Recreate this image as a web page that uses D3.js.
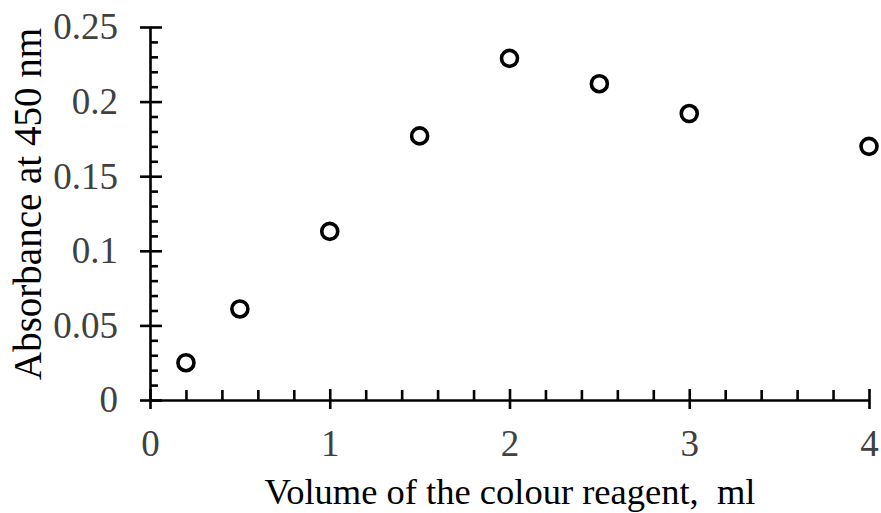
<!DOCTYPE html>
<html>
<head>
<meta charset="utf-8">
<script src="https://cdn.jsdelivr.net/npm/d3@7"></script>
<style>
  body { margin: 0; background: #fff; }
  text { font-family: "Liberation Serif", "Times New Roman", serif; }
</style>
</head>
<body>
<div id="chart"></div>
<script>
// data
var volume = [0.2, 0.5, 1, 1.5, 2, 2.5, 3, 4];
var absorbance = [0.025, 0.061, 0.113, 0.177, 0.229, 0.212, 0.192, 0.170];

var xTicks = [0, 1, 2, 3, 4];
var yTicks = [0, 0.05, 0.1, 0.15, 0.2, 0.25];

var xTitle = "Volume of the colour reagent,  ml";
var yTitle = "Absorbance at 450 nm";

// dimensions
var W = 881, H = 513;
var margin = {top: 27, right: 12, bottom: 113, left: 150},
    width = W - margin.left - margin.right,
    height = H - margin.top - margin.bottom;

var svg = d3.select("#chart").append("svg")
    .attr("width", W)
    .attr("height", H)
  .append("g")
    .attr("transform", "translate(" + margin.left + "," + margin.top + ")");

var x = d3.scaleLinear().domain([0, 4]).range([0, width]);
var y = d3.scaleLinear().domain([0, 0.25]).range([height, 0]);

// minor tick positions
var xMinor = d3.range(0, 4.001, 0.2).filter(function(v) { return Math.abs(v - Math.round(v)) > 1e-6; });
var yMinor = d3.range(0, 0.2501, 0.01).filter(function(v) { return Math.abs(v * 20 - Math.round(v * 20)) > 1e-6; });

var axisStroke = 2.6;
var labelSize = 37;

// x axis: main (outside ticks + labels)
var gx = svg.append("g")
    .attr("transform", "translate(0," + height + ")")
    .call(d3.axisBottom(x).tickValues(xTicks).tickSize(9).tickSizeOuter(0).tickPadding(21)
      .tickFormat(d3.format("d")));
// inside ticks
svg.append("g").attr("class", "inner")
    .attr("transform", "translate(0," + height + ")")
    .call(d3.axisTop(x).tickValues(xTicks).tickSize(11).tickFormat(""));
svg.append("g").attr("class", "inner")
    .attr("transform", "translate(0," + height + ")")
    .call(d3.axisTop(x).tickValues(xMinor).tickSize(10).tickFormat(""));

// y axis
var gy = svg.append("g")
    .call(d3.axisLeft(y).tickValues(yTicks).tickSize(10).tickSizeOuter(0).tickPadding(22)
      .tickFormat(function(d) { return d === 0 ? "0" : String(+d.toFixed(2)); }));
svg.append("g").attr("class", "inner")
    .call(d3.axisRight(y).tickValues(yTicks).tickSize(12).tickFormat(""));
svg.append("g").attr("class", "inner")
    .call(d3.axisRight(y).tickValues(yMinor).tickSize(8).tickFormat(""));

svg.selectAll(".inner .domain").remove();
svg.selectAll(".domain, .tick line")
    .attr("stroke", "#000")
    .attr("stroke-width", axisStroke);

gx.selectAll("text")
    .attr("font-size", labelSize)
    .attr("fill", "#404040")
    .attr("font-family", "Liberation Serif, serif");
gy.selectAll("text")
    .attr("font-size", labelSize)
    .attr("fill", "#404040")
    .attr("font-family", "Liberation Serif, serif");

// points
svg.selectAll("circle.pt")
    .data(volume)
    .enter()
  .append("circle")
    .attr("class", "pt")
    .attr("cx", function(d) { return x(d); })
    .attr("cy", function(d, i) { return y(absorbance[i]); })
    .attr("r", 8)
    .attr("fill", "none")
    .attr("stroke", "#000")
    .attr("stroke-width", 3.6);

// axis titles
svg.append("text")
    .attr("x", 510 - margin.left)
    .attr("y", height + 104)
    .attr("text-anchor", "middle")
    .attr("font-size", 36.5)
    .style("white-space", "pre")
    .attr("fill", "#000")
    .text(xTitle);

svg.append("text")
    .attr("transform", "translate(" + (41 - margin.left) + "," + (204 - margin.top) + ") rotate(-90)")
    .attr("text-anchor", "middle")
    .attr("font-size", 39)
    .attr("fill", "#000")
    .text(yTitle);
</script>
</body>
</html>
